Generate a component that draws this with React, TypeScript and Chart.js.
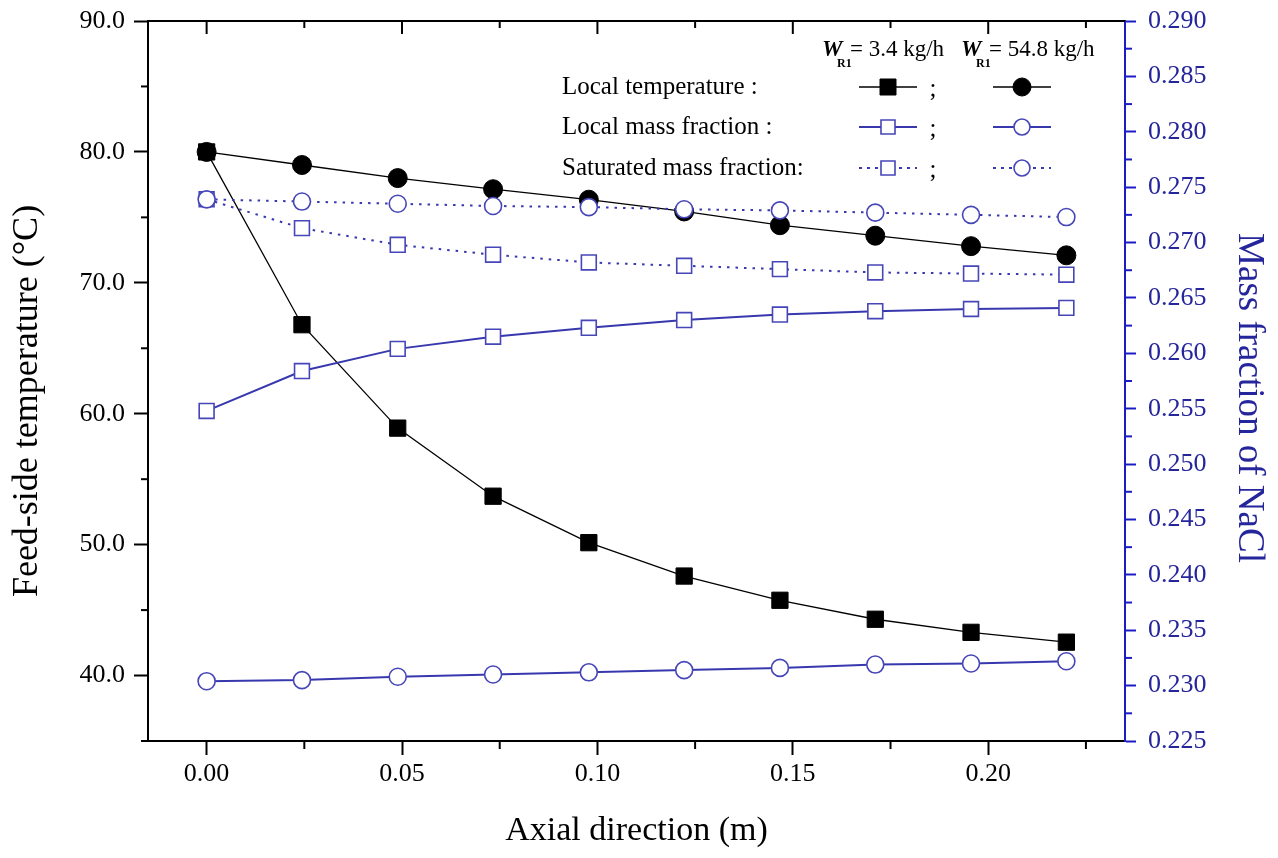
import React, { useEffect, useRef } from 'react';
import { Chart, registerables } from 'chart.js';

Chart.register(...registerables);

// ---------- data ----------
const axialPositions = [0, 0.0244, 0.0489, 0.0733, 0.0978, 0.1222, 0.1467, 0.1711, 0.1956, 0.22];
const tempLowFlow = [80.0, 66.8, 58.9, 53.7, 50.15, 47.6, 45.75, 44.3, 43.3, 42.55];
const tempHighFlow = [80.0, 79.0, 78.0, 77.15, 76.35, 75.45, 74.4, 73.6, 72.8, 72.1];
const massLowFlow = [0.2548, 0.2584, 0.2604, 0.2615, 0.2623, 0.263, 0.2635, 0.2638, 0.264, 0.2641];
const massHighFlow = [0.2304, 0.2305, 0.2308, 0.231, 0.2312, 0.2314, 0.2316, 0.2319, 0.232, 0.2322];
const satLowFlow = [0.2739, 0.2713, 0.2698, 0.2689, 0.2682, 0.2679, 0.2676, 0.2673, 0.2672, 0.2671];
const satHighFlow = [0.2739, 0.2737, 0.2735, 0.2733, 0.2732, 0.273, 0.2729, 0.2727, 0.2725, 0.2723];

const axialTicks = [0, 0.05, 0.1, 0.15, 0.2];
const axialMinorTicks = [0.025, 0.075, 0.125, 0.175, 0.225];
const tempTicks = [40, 50, 60, 70, 80, 90];
const tempMinorTicks = [35, 45, 55, 65, 75, 85];
const massTicks = [0.225, 0.23, 0.235, 0.24, 0.245, 0.25, 0.255, 0.26, 0.265, 0.27, 0.275, 0.28, 0.285, 0.29];
const massMinorTicks = [0.2275, 0.2325, 0.2375, 0.2425, 0.2475, 0.2525, 0.2575, 0.2625, 0.2675, 0.2725, 0.2775, 0.2825, 0.2875];

const legendRows = ['Local temperature :', 'Local mass fraction :', 'Saturated mass fraction:'];
const flowLabels = ['= 3.4 kg/h', '= 54.8 kg/h'];
const axisTitles = ['Axial direction (m)', 'Feed-side temperature (°C)', 'Mass fraction of NaCl'];

// ---------- styles ----------
const FONT = "'Liberation Serif', 'Times New Roman', serif";
const BLACK = '#000000';
const BLUE_AXIS = '#1c1cc4';
const BLUE_TEXT = '#25259c';
const BLUE_LINE = '#3838ae';
const BLUE_MARK = '#4646b8';

const pts = (ys: number[]) => axialPositions.map((x, i) => ({ x, y: ys[i] }));

function drawMarker(ctx: CanvasRenderingContext2D, shape: string, x: number, y: number, filled: boolean, color: string, size: number) {
  ctx.save();
  ctx.beginPath();
  if (shape === 'rect') {
    ctx.rect(x - size / 2, y - size / 2, size, size);
  } else {
    ctx.arc(x, y, size / 2, 0, Math.PI * 2);
  }
  ctx.fillStyle = filled ? color : '#ffffff';
  ctx.fill();
  ctx.lineWidth = filled ? 1 : 1.6;
  ctx.strokeStyle = color;
  ctx.stroke();
  ctx.restore();
}

const decorPlugin = {
  id: 'decor',
  afterDraw(chart: any) {
    const ctx: CanvasRenderingContext2D = chart.ctx;
    const { left, right, top, bottom } = chart.chartArea;
    const xs = chart.scales.x;
    const ys = chart.scales.y;
    const y2 = chart.scales.y2;
    ctx.save();

    // top frame with inward ticks
    ctx.strokeStyle = BLACK;
    ctx.lineWidth = 2;
    ctx.beginPath();
    ctx.moveTo(left - 1, top);
    ctx.lineTo(right, top);
    ctx.stroke();
    axialTicks.forEach((v) => {
      const px = xs.getPixelForValue(v);
      ctx.beginPath();
      ctx.moveTo(px, top);
      ctx.lineTo(px, top + 13);
      ctx.stroke();
    });
    axialMinorTicks.forEach((v) => {
      const px = xs.getPixelForValue(v);
      ctx.beginPath();
      ctx.moveTo(px, top);
      ctx.lineTo(px, top + 7);
      ctx.stroke();
      // bottom minor
      ctx.beginPath();
      ctx.moveTo(px, bottom);
      ctx.lineTo(px, bottom + 8);
      ctx.stroke();
    });
    tempMinorTicks.forEach((v) => {
      const py = ys.getPixelForValue(v);
      ctx.beginPath();
      ctx.moveTo(left - 7, py);
      ctx.lineTo(left, py);
      ctx.stroke();
    });
    ctx.strokeStyle = BLUE_AXIS;
    massMinorTicks.forEach((v) => {
      const py = y2.getPixelForValue(v);
      ctx.beginPath();
      ctx.moveTo(right, py);
      ctx.lineTo(right + 7, py);
      ctx.stroke();
    });

    // y-axis titles
    const midY = (top + bottom) / 2;
    ctx.textAlign = 'center';
    ctx.textBaseline = 'middle';
    ctx.fillStyle = BLACK;
    ctx.font = `36px ${FONT}`;
    ctx.save();
    ctx.translate(28, midY + 20);
    ctx.rotate(-Math.PI / 2);
    ctx.fillText(axisTitles[1], 0, 0);
    ctx.restore();
    ctx.fillStyle = BLUE_TEXT;
    ctx.font = `37px ${FONT}`;
    ctx.save();
    ctx.translate(1249, midY + 17);
    ctx.rotate(Math.PI / 2);
    ctx.fillText(axisTitles[2], 0, 0);
    ctx.restore();

    // legend header
    ctx.fillStyle = BLACK;
    ctx.textAlign = 'left';
    ctx.textBaseline = 'alphabetic';
    const headerX = [822, 961];
    headerX.forEach((hx, i) => {
      ctx.font = `italic bold 23px ${FONT}`;
      ctx.fillText('W', hx, 56);
      ctx.font = `bold 12px ${FONT}`;
      ctx.fillText('R1', hx + 15, 67);
      ctx.font = `23px ${FONT}`;
      ctx.fillText(flowLabels[i], hx + 28, 56);
    });

    // legend rows
    const rowY = [87, 127, 168];
    const col1 = 888;
    const col2 = 1022;
    ctx.font = `25px ${FONT}`;
    ctx.textBaseline = 'middle';
    legendRows.forEach((label, i) => {
      ctx.fillStyle = BLACK;
      ctx.textAlign = 'left';
      ctx.fillText(label, 562, rowY[i]);
      ctx.textAlign = 'center';
      ctx.fillText(';', 933, rowY[i] + 2);
    });
    const drawLegendLine = (cx: number, y: number, color: string, width: number, dash: number[]) => {
      ctx.save();
      ctx.strokeStyle = color;
      ctx.lineWidth = width;
      ctx.setLineDash(dash);
      ctx.beginPath();
      ctx.moveTo(cx - 29, y);
      ctx.lineTo(cx + 29, y);
      ctx.stroke();
      ctx.restore();
    };
    drawLegendLine(col1, rowY[0], BLACK, 1.3, []);
    drawMarker(ctx, 'rect', col1, rowY[0], true, BLACK, 16);
    drawLegendLine(col2, rowY[0], BLACK, 1.3, []);
    drawMarker(ctx, 'circle', col2, rowY[0], true, BLACK, 18);
    drawLegendLine(col1, rowY[1], BLUE_LINE, 2, []);
    drawMarker(ctx, 'rect', col1, rowY[1], false, BLUE_MARK, 14);
    drawLegendLine(col2, rowY[1], BLUE_LINE, 2, []);
    drawMarker(ctx, 'circle', col2, rowY[1], false, BLUE_MARK, 16);
    drawLegendLine(col1, rowY[2], BLUE_LINE, 2, [3, 5]);
    drawMarker(ctx, 'rect', col1, rowY[2], false, BLUE_MARK, 14);
    drawLegendLine(col2, rowY[2], BLUE_LINE, 2, [3, 5]);
    drawMarker(ctx, 'circle', col2, rowY[2], false, BLUE_MARK, 16);

    ctx.restore();
  },
};

export default function App() {
  const canvasRef = useRef<HTMLCanvasElement | null>(null);

  useEffect(() => {
    if (!canvasRef.current) return;
    const tickFont = { family: FONT, size: 26 };
    const chart = new Chart(canvasRef.current, {
      type: 'line',
      data: {
        datasets: [
          {
            label: 'Local temperature, W=3.4 kg/h',
            data: pts(tempLowFlow),
            yAxisID: 'y',
            borderColor: BLACK,
            borderWidth: 1.3,
            pointStyle: 'rect',
            pointRadius: 11.5,
            pointBackgroundColor: BLACK,
            pointBorderColor: BLACK,
            pointBorderWidth: 1,
            tension: 0,
            order: 5,
          },
          {
            label: 'Local temperature, W=54.8 kg/h',
            data: pts(tempHighFlow),
            yAxisID: 'y',
            borderColor: BLACK,
            borderWidth: 1.3,
            pointStyle: 'circle',
            pointRadius: 9.5,
            pointBackgroundColor: BLACK,
            pointBorderColor: BLACK,
            pointBorderWidth: 1,
            tension: 0,
            order: 4,
          },
          {
            label: 'Local mass fraction, W=3.4 kg/h',
            data: pts(massLowFlow),
            yAxisID: 'y2',
            borderColor: BLUE_LINE,
            borderWidth: 2,
            pointStyle: 'rect',
            pointRadius: 10.5,
            pointBackgroundColor: '#ffffff',
            pointBorderColor: BLUE_MARK,
            pointBorderWidth: 1.6,
            tension: 0,
            order: 3,
          },
          {
            label: 'Local mass fraction, W=54.8 kg/h',
            data: pts(massHighFlow),
            yAxisID: 'y2',
            borderColor: BLUE_LINE,
            borderWidth: 2,
            pointStyle: 'circle',
            pointRadius: 8.5,
            pointBackgroundColor: '#ffffff',
            pointBorderColor: BLUE_MARK,
            pointBorderWidth: 1.6,
            tension: 0,
            order: 2,
          },
          {
            label: 'Saturated mass fraction, W=3.4 kg/h',
            data: pts(satLowFlow),
            yAxisID: 'y2',
            borderColor: BLUE_LINE,
            borderWidth: 2,
            borderDash: [2.5, 6],
            pointStyle: 'rect',
            pointRadius: 10.5,
            pointBackgroundColor: '#ffffff',
            pointBorderColor: BLUE_MARK,
            pointBorderWidth: 1.6,
            tension: 0,
            order: 1,
          },
          {
            label: 'Saturated mass fraction, W=54.8 kg/h',
            data: pts(satHighFlow),
            yAxisID: 'y2',
            borderColor: BLUE_LINE,
            borderWidth: 2,
            borderDash: [2.5, 6],
            pointStyle: 'circle',
            pointRadius: 8.5,
            pointBackgroundColor: '#ffffff',
            pointBorderColor: BLUE_MARK,
            pointBorderWidth: 1.6,
            tension: 0,
            order: 0,
          },
        ],
      },
      options: {
        responsive: false,
        animation: false,
        devicePixelRatio: 1,
        layout: { padding: { top: 21, left: 0, right: 0, bottom: 0 } },
        plugins: {
          legend: { display: false },
          tooltip: { enabled: false },
          title: { display: false },
        },
        scales: {
          x: {
            type: 'linear',
            position: 'bottom',
            min: -0.015,
            max: 0.235,
            afterBuildTicks: (s: any) => {
              s.ticks = axialTicks.map((v) => ({ value: v }));
            },
            afterFit: (s: any) => {
              s.height = 117;
              s.paddingLeft = 0;
              s.paddingRight = 0;
            },
            ticks: {
              callback: (v: any) => Number(v).toFixed(2),
              font: tickFont,
              color: BLACK,
              padding: 4,
              maxRotation: 0,
              autoSkip: false,
            },
            grid: {
              drawOnChartArea: false,
              drawTicks: true,
              tickLength: 14,
              tickWidth: 2,
              tickColor: BLACK,
            },
            border: { display: true, color: BLACK, width: 2 },
            title: {
              display: true,
              text: axisTitles[0],
              font: { family: FONT, size: 34 },
              color: BLACK,
              padding: { top: 0, bottom: 7 },
            },
          },
          y: {
            type: 'linear',
            position: 'left',
            min: 35,
            max: 90,
            afterBuildTicks: (s: any) => {
              s.ticks = tempTicks.map((v) => ({ value: v }));
            },
            afterFit: (s: any) => {
              s.width = 148;
              s.paddingTop = 0;
              s.paddingBottom = 0;
            },
            ticks: {
              callback: (v: any) => Number(v).toFixed(1),
              font: tickFont,
              color: BLACK,
              padding: 9,
              autoSkip: false,
            },
            grid: {
              drawOnChartArea: false,
              drawTicks: true,
              tickLength: 14,
              tickWidth: 2,
              tickColor: BLACK,
            },
            border: { display: true, color: BLACK, width: 2 },
          },
          y2: {
            type: 'linear',
            position: 'right',
            min: 0.225,
            max: 0.29,
            afterBuildTicks: (s: any) => {
              s.ticks = massTicks.map((v) => ({ value: v }));
            },
            afterFit: (s: any) => {
              s.width = 153;
              s.paddingTop = 0;
              s.paddingBottom = 0;
            },
            ticks: {
              callback: (v: any) => Number(v).toFixed(3),
              font: tickFont,
              color: BLUE_TEXT,
              padding: 12,
              autoSkip: false,
            },
            grid: {
              drawOnChartArea: false,
              drawTicks: true,
              tickLength: 11,
              tickWidth: 2,
              tickColor: BLUE_AXIS,
            },
            border: { display: true, color: BLUE_AXIS, width: 2 },
          },
        },
      },
      plugins: [decorPlugin],
    } as any);
    return () => {
      chart.destroy();
    };
  }, []);

  return (
    <div style={{ position: 'absolute', left: 0, top: 0, width: 1278, height: 858, background: '#ffffff' }}>
      <canvas ref={canvasRef} width={1278} height={858} style={{ width: 1278, height: 858, display: 'block' }} />
    </div>
  );
}
